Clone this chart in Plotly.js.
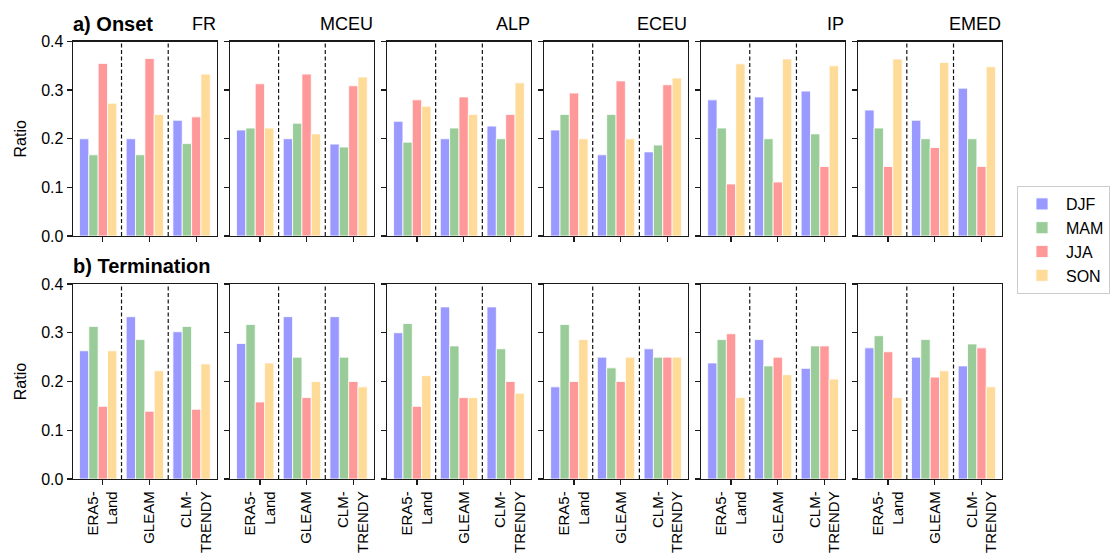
<!DOCTYPE html>
<html>
<head>
<meta charset="utf-8">
<script src="https://cdn.plot.ly/plotly-3.0.1.min.js"></script>
<style>html,body{margin:0;padding:0;background:#fff;}#chart{width:1110px;height:559px;}</style>
</head>
<body>
<div id="chart"></div>
<script>
// ---- data ----
const regions = ['FR', 'MCEU', 'ALP', 'ECEU', 'IP', 'EMED'];
const products = ['ERA5-<br>Land', 'GLEAM', 'CLM-<br>TRENDY'];
const seasons = ['DJF', 'MAM', 'JJA', 'SON'];
const seasonColors = ['#9999ff', '#99cc99', '#ff9999', '#ffdb99'];
const panelTitles = ['a) Onset', 'b) Termination'];
const yTickVals = [0.0, 0.1, 0.2, 0.3, 0.4];

// values per season: [ERA5-Land, GLEAM, CLM-TRENDY]
// a) Onset
const onsetFR   = [[0.200, 0.200, 0.238], [0.167, 0.167, 0.190], [0.355, 0.365, 0.245], [0.273, 0.250, 0.333]];
const onsetMCEU = [[0.218, 0.200, 0.189], [0.222, 0.232, 0.183], [0.313, 0.333, 0.309], [0.222, 0.210, 0.327]];
const onsetALP  = [[0.236, 0.200, 0.226], [0.193, 0.222, 0.200], [0.280, 0.286, 0.250], [0.267, 0.250, 0.315]];
const onsetECEU = [[0.218, 0.167, 0.173], [0.250, 0.250, 0.187], [0.294, 0.319, 0.311], [0.200, 0.200, 0.325]];
const onsetIP   = [[0.280, 0.286, 0.298], [0.222, 0.200, 0.210], [0.107, 0.111, 0.143], [0.354, 0.364, 0.350]];
const onsetEMED = [[0.259, 0.238, 0.304], [0.222, 0.200, 0.200], [0.143, 0.182, 0.143], [0.364, 0.357, 0.348]];
// b) Termination
const termFR    = [[0.263, 0.333, 0.302], [0.313, 0.286, 0.313], [0.149, 0.139, 0.143], [0.263, 0.222, 0.236]];
const termMCEU  = [[0.278, 0.333, 0.333], [0.317, 0.250, 0.250], [0.158, 0.167, 0.200], [0.238, 0.200, 0.189]];
const termALP   = [[0.300, 0.353, 0.353], [0.319, 0.273, 0.267], [0.149, 0.167, 0.200], [0.212, 0.167, 0.176]];
const termECEU  = [[0.189, 0.250, 0.267], [0.317, 0.228, 0.250], [0.200, 0.200, 0.250], [0.286, 0.250, 0.250]];
const termIP    = [[0.238, 0.286, 0.227], [0.286, 0.232, 0.273], [0.298, 0.250, 0.273], [0.167, 0.214, 0.205]];
const termEMED  = [[0.269, 0.250, 0.232], [0.294, 0.286, 0.277], [0.261, 0.209, 0.269], [0.167, 0.222, 0.189]];

const onsetData = [onsetFR, onsetMCEU, onsetALP, onsetECEU, onsetIP, onsetEMED];
const termData  = [termFR, termMCEU, termALP, termECEU, termIP, termEMED];
const rowsData = [onsetData, termData];

// ---- layout geometry (pixels) ----
const W = 1110, H = 559;
const panelLeft0 = 73, panelStep = 157.2, panelW = 144;
const rowTop = [41.5, 284], rowBottom = [236, 479];
const FONT = '"Liberation Sans", Arial, Helvetica, sans-serif';
const AX = '#1a1a1a';

const traces = [];
const layout = {
  width: W, height: H,
  margin: {l: 0, r: 0, t: 0, b: 0},
  paper_bgcolor: '#fff', plot_bgcolor: '#fff',
  font: {family: FONT, size: 16, color: '#000'},
  showlegend: true,
  barmode: 'overlay',
  legend: {
    x: 1018 / W, y: 1 - 186 / H, xanchor: 'left', yanchor: 'top',
    bgcolor: '#fff', bordercolor: '#cccccc', borderwidth: 1,
    font: {family: FONT, size: 16, color: '#000'},
    tracegroupgap: 0, itemwidth: 38
  },
  shapes: [],
  annotations: []
};

const xs = products.map((_, i) => i);
const offsets = [-0.5, -0.3, -0.1, 0.1];

for (let r = 0; r < 2; r++) {
  for (let c = 0; c < 6; c++) {
    const k = r * 6 + c + 1;
    const xa = 'x' + (k === 1 ? '' : k), ya = 'y' + (k === 1 ? '' : k);
    const xk = 'xaxis' + (k === 1 ? '' : k), yk = 'yaxis' + (k === 1 ? '' : k);
    const x0 = panelLeft0 + c * panelStep;
    const data = rowsData[r][c];
    seasons.forEach((s, si) => {
      traces.push({
        type: 'bar', name: s, x: xs, y: data[si],
        xaxis: xa, yaxis: ya,
        width: 0.2, offset: offsets[si],
        marker: {color: seasonColors[si], line: {color: '#fff', width: 0.8}},
        legendgroup: s, showlegend: (k === 1),
        hoverinfo: 'y'
      });
    });
    layout[xk] = {
      domain: [x0 / W, (x0 + panelW) / W],
      anchor: ya,
      range: [-0.64, 2.44],
      tickmode: 'array', tickvals: xs,
      ticktext: r === 1 ? products : ['', '', ''],
      showticklabels: r === 1,
      tickangle: -90,
      ticks: 'outside', ticklen: 5, tickwidth: 1.3, tickcolor: AX,
      showline: true, linecolor: AX, linewidth: 1.3, mirror: true,
      showgrid: false, zeroline: false, fixedrange: true,
      tickfont: {family: FONT, size: 15, color: '#000'}
    };
    layout[yk] = {
      domain: [1 - rowBottom[r] / H, 1 - rowTop[r] / H],
      anchor: xa,
      range: [0, 0.4],
      tickmode: 'array', tickvals: yTickVals,
      tickformat: '.1f',
      showticklabels: c === 0,
      ticks: 'outside', ticklen: 5, tickwidth: 1.3, tickcolor: AX,
      showline: true, linecolor: AX, linewidth: 1.3, mirror: true,
      showgrid: false, zeroline: false, fixedrange: true,
      tickfont: {family: FONT, size: 16, color: '#000'},
      title: c === 0 ? {text: 'Ratio', font: {family: FONT, size: 16, color: '#000'}, standoff: 10} : {text: ''}
    };
    // dashed separators between products
    [0.4, 1.4].forEach(sx => {
      layout.shapes.push({
        type: 'line', xref: xa, yref: ya + ' domain',
        x0: sx, x1: sx, y0: 0, y1: 1,
        line: {color: '#111', width: 1.2, dash: '4px,2.5px'}
      });
    });
    // region labels (top row)
    if (r === 0) {
      layout.annotations.push({
        text: regions[c], xref: 'paper', yref: 'paper',
        x: (x0 + panelW + 1) / W, y: 1 - 24 / H,
        xanchor: 'right', yanchor: 'middle', showarrow: false,
        font: {family: FONT, size: 18, color: '#000'}
      });
    }
  }
  // panel titles
  layout.annotations.push({
    text: '<b>' + panelTitles[r] + '</b>', xref: 'paper', yref: 'paper',
    x: 71 / W, y: 1 - (r === 0 ? 24 : 266) / H,
    xanchor: 'left', yanchor: 'middle', showarrow: false,
    font: {family: FONT, size: 20, color: '#000'}
  });
}

Plotly.newPlot('chart', traces, layout, {displayModeBar: false, staticPlot: true});
</script>
</body>
</html>
